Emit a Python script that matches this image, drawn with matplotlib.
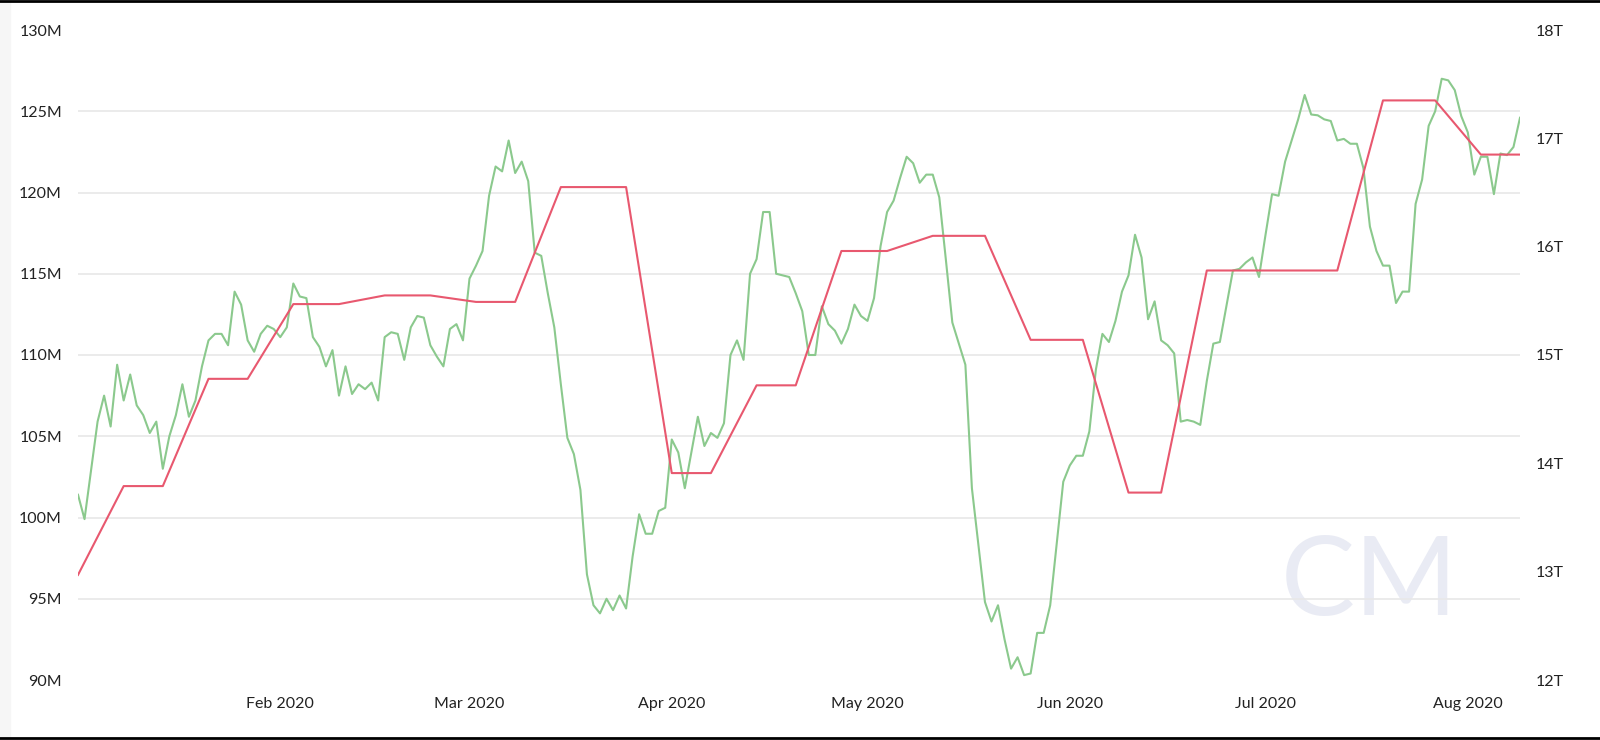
import pandas as pd
import matplotlib.pyplot as plt
import matplotlib.dates as mdates
from matplotlib.ticker import FuncFormatter, FixedLocator

plt.rcParams['font.family'] = ['Lato', 'DejaVu Sans']

# daily hash rate (7d avg), from 2020-01-01, in millions
hash_rate = [
    101.4, 99.9, 102.9, 105.9, 107.5, 105.6, 109.4, 107.2, 108.8, 106.9,
    106.3, 105.2, 105.9, 103.0, 105.0, 106.3, 108.2, 106.2, 107.2, 109.3,
    110.9, 111.3, 111.3, 110.6, 113.9, 113.1, 110.9, 110.2, 111.3, 111.8,
    111.6, 111.1, 111.7, 114.4, 113.6, 113.5, 111.1, 110.5, 109.3, 110.3,
    107.5, 109.3, 107.6, 108.2, 107.9, 108.3, 107.2, 111.1, 111.4, 111.3,
    109.7, 111.7, 112.4, 112.3, 110.6, 109.9, 109.3, 111.6, 111.9, 110.9,
    114.7, 115.5, 116.4, 119.8, 121.6, 121.3, 123.2, 121.2, 121.9, 120.7,
    116.3, 116.1, 113.8, 111.7, 108.2, 104.9, 103.9, 101.7, 96.5, 94.6,
    94.1, 95.0, 94.3, 95.2, 94.4, 97.6, 100.2, 99.0, 99.0, 100.4,
    100.6, 104.8, 104.0, 101.8, 104.0, 106.2, 104.4, 105.2, 104.9, 105.8,
    110.0, 110.9, 109.7, 115.0, 115.9, 118.8, 118.8, 115.0, 114.9, 114.8,
    113.8, 112.7, 110.0, 110.0, 113.0, 111.9, 111.5, 110.7, 111.6, 113.1,
    112.4, 112.1, 113.5, 116.7, 118.8, 119.5, 120.9, 122.2, 121.8, 120.6,
    121.1, 121.1, 119.7, 115.9, 112.0, 110.7, 109.4, 101.8, 98.3, 94.8,
    93.6, 94.6, 92.5, 90.7, 91.4, 90.3, 90.4, 92.9, 92.9, 94.6,
    98.4, 102.2, 103.2, 103.8, 103.8, 105.3, 109.1, 111.3, 110.8, 112.1,
    113.9, 114.9, 117.4, 116.0, 112.2, 113.3, 110.9, 110.6, 110.1, 105.9,
    106.0, 105.9, 105.7, 108.4, 110.7, 110.8, 113.0, 115.2, 115.3, 115.7,
    116.0, 114.8, 117.4, 119.9, 119.8, 121.9, 123.2, 124.5, 126.0, 124.8,
    124.75, 124.5, 124.4, 123.2, 123.3, 123.0, 123.0, 121.5, 117.9, 116.4,
    115.5, 115.5, 113.2, 113.9, 113.9, 119.3, 120.8, 124.1, 125.0, 127.0,
    126.9, 126.3, 124.7, 123.7, 121.1, 122.2, 122.2, 119.9, 122.4, 122.3,
    122.8, 124.6,
]
dates = pd.date_range('2020-01-01', periods=len(hash_rate), freq='D')

# difficulty (trillions), corner points of the line
diff_dates = [
    '2020-01-01', '2020-01-08', '2020-01-14', '2020-01-21', '2020-01-27',
    '2020-02-03', '2020-02-10', '2020-02-17', '2020-02-24', '2020-03-02',
    '2020-03-08', '2020-03-15', '2020-03-25', '2020-04-01', '2020-04-07',
    '2020-04-14', '2020-04-20', '2020-04-27', '2020-05-04', '2020-05-11',
    '2020-05-19', '2020-05-26', '2020-06-03', '2020-06-10', '2020-06-15',
    '2020-06-22', '2020-07-12', '2020-07-19', '2020-07-27', '2020-08-03',
    '2020-08-09',
]
difficulty = [
    12.97, 13.79, 13.79, 14.78, 14.78, 15.47, 15.47, 15.55, 15.55, 15.49,
    15.49, 16.55, 16.55, 13.91, 13.91, 14.72, 14.72, 15.96, 15.96, 16.10,
    16.10, 15.14, 15.14, 13.73, 13.73, 15.78, 15.78, 17.35, 17.35, 16.85,
    16.85,
]

left_ticks = [90, 95, 100, 105, 110, 115, 120, 125, 130]
right_ticks = [12, 13, 14, 15, 16, 17, 18]
month_ticks = ['2020-02-01', '2020-03-01', '2020-04-01', '2020-05-01',
               '2020-06-01', '2020-07-01', '2020-08-01']

green = '#8bc98d'
red = '#e8586f'
text_col = '#222222'

fig = plt.figure(figsize=(16, 7.4), dpi=100)
ax = fig.add_axes([78 / 1600, 1 - 680 / 740, (1520 - 78) / 1600, 650 / 740])
ax2 = ax.twinx()

# watermark logo
fig.text(1369 / 1600, 1 - 615 / 740, 'CM', fontsize=80, color='#e9ebf4',
         ha='center', va='baseline', zorder=0)
ax.set_zorder(1)
ax2.set_zorder(2)
ax.patch.set_visible(False)
ax2.patch.set_visible(False)

for v in left_ticks[1:-1]:
    ax.axhline(v, color='#e8e8e8', lw=1.2, zorder=0)

ax.plot(dates, hash_rate, color=green, lw=1.5)
ax2.plot(pd.to_datetime(diff_dates), difficulty, color=red, lw=1.5)

ax.set_xlim(dates[0], dates[-1])
ax.set_ylim(90, 130)
ax2.set_ylim(12, 18)

ax.yaxis.set_major_locator(FixedLocator(left_ticks))
ax.yaxis.set_major_formatter(FuncFormatter(lambda v, p: f'{v:.0f}M'))
ax2.yaxis.set_major_locator(FixedLocator(right_ticks))
ax2.yaxis.set_major_formatter(FuncFormatter(lambda v, p: f'{v:.0f}T'))
ax.xaxis.set_major_locator(FixedLocator(mdates.date2num(pd.to_datetime(month_ticks))))
ax.xaxis.set_major_formatter(mdates.DateFormatter('%b %Y'))

for a in (ax, ax2):
    for s in a.spines.values():
        s.set_visible(False)
ax.tick_params(axis='y', length=0, pad=11.5, labelsize=11.5, labelcolor=text_col)
ax2.tick_params(axis='y', length=0, pad=11.5, labelsize=11.5, labelcolor=text_col)
ax.tick_params(axis='x', length=0, pad=12, labelsize=11.5, labelcolor=text_col)

# frame bits of the screenshot
fig.patches.append(plt.Rectangle((0, 0), 10 / 1600, 1, transform=fig.transFigure,
                                 color='#f6f6f6', zorder=-1))
fig.add_artist(plt.Line2D([0, 1], [1 - 1 / 740, 1 - 1 / 740], color='black', lw=2))
fig.add_artist(plt.Line2D([0, 1], [2 / 740, 2 / 740], color='black', lw=2))

fig.savefig('out.png', dpi=100, facecolor='white')
